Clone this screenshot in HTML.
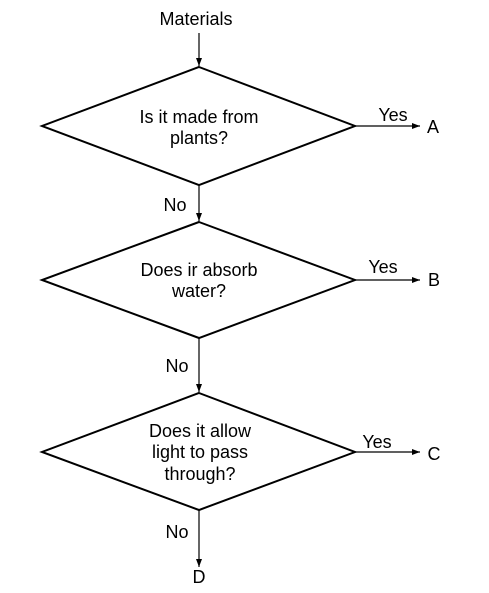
<!DOCTYPE html>
<html><head><style>body{margin:0;background:#fff}svg{display:block}text{font-family:"Liberation Sans",Arial,sans-serif;font-size:18px;fill:#000}</style></head>
<body>
<svg width="489" height="593" viewBox="0 0 489 593">
<defs><marker id="a" markerWidth="8" markerHeight="6" refX="8" refY="3" orient="auto" markerUnits="userSpaceOnUse"><path d="M0,0L8,3L0,6z" fill="#000"/></marker></defs>
<g stroke="#000" fill="none">
<polygon points="199,67 355,126 199,185 42,126" stroke-width="2"/>
<polygon points="199,222 355,280 199,338 42,280" stroke-width="2"/>
<polygon points="199,393 355,452 199,510 42,452" stroke-width="2"/>
<g stroke-width="1.2">
<line x1="199" y1="33" x2="199" y2="66" marker-end="url(#a)"/>
<line x1="355" y1="126" x2="420" y2="126" marker-end="url(#a)"/>
<line x1="199" y1="185" x2="199" y2="221" marker-end="url(#a)"/>
<line x1="355" y1="280" x2="420" y2="280" marker-end="url(#a)"/>
<line x1="199" y1="338" x2="199" y2="392" marker-end="url(#a)"/>
<line x1="355" y1="452" x2="420" y2="452" marker-end="url(#a)"/>
<line x1="199" y1="510" x2="199" y2="567" marker-end="url(#a)"/>
</g></g>
<g text-anchor="middle">
<text x="196" y="25">Materials</text>
<text x="199" y="123">Is it made from</text>
<text x="199" y="144">plants?</text>
<text x="393" y="121">Yes</text>
<text x="433" y="133">A</text>
<text x="175" y="211">No</text>
<text x="199" y="276">Does ir absorb</text>
<text x="199" y="297">water?</text>
<text x="383" y="273">Yes</text>
<text x="434" y="286">B</text>
<text x="177" y="372">No</text>
<text x="200" y="437">Does it allow</text>
<text x="200" y="458">light to pass</text>
<text x="200" y="480">through?</text>
<text x="377" y="448">Yes</text>
<text x="434" y="460">C</text>
<text x="177" y="538">No</text>
<text x="199" y="583">D</text>
</g>
</svg>
</body></html>
